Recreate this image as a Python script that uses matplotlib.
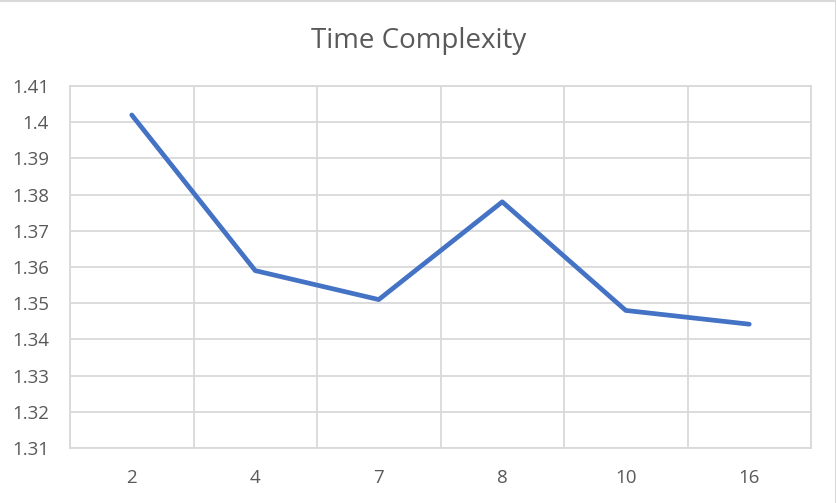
import matplotlib.pyplot as plt
from matplotlib.lines import Line2D
import numpy as np

categories = ["2", "4", "7", "8", "10", "16"]
values = [1.402, 1.359, 1.351, 1.378, 1.348, 1.3442]
y_ticks = [1.31, 1.32, 1.33, 1.34, 1.35, 1.36, 1.37, 1.38, 1.39, 1.40, 1.41]
y_labels = ["1.31", "1.32", "1.33", "1.34", "1.35", "1.36", "1.37", "1.38", "1.39", "1.4", "1.41"]

plt.rcParams["font.family"] = ["Open Sans", "DejaVu Sans"]
text_color = "#595959"
grid_color = "#d9d9d9"

fig = plt.figure(figsize=(8.37, 5.03), dpi=100)
ax = fig.add_axes([70 / 837, 1 - 448 / 503, (811 - 70) / 837, (448 - 86) / 503])

x = np.arange(len(categories))
ax.plot(x, values, color="#4472C4", linewidth=3.4, solid_capstyle="round", zorder=3)

ax.set_xlim(-0.5, len(categories) - 0.5)
ax.set_ylim(1.31, 1.41)
ax.set_xticks(x)
ax.set_xticklabels(categories)
ax.set_xticks(np.arange(-0.5, len(categories)), minor=True)
ax.set_yticks(y_ticks)
ax.set_yticklabels(y_labels)

ax.grid(True, axis="y", which="major", color=grid_color, linewidth=1.3)
ax.grid(True, axis="x", which="minor", color=grid_color, linewidth=1.3)
ax.tick_params(axis="both", which="both", length=0, colors=text_color, labelsize=13.5)
ax.tick_params(axis="x", pad=15)
ax.tick_params(axis="y", pad=15)
for spine in ax.spines.values():
    spine.set_color(grid_color)
    spine.set_linewidth(1.3)

fig.text(0.5, 1 - 41 / 503, "Time Complexity", ha="center", va="center",
         fontsize=20, color=text_color)

# chart area border (only top and right edges visible in the crop)
fig.add_artist(Line2D([0, 1], [0.999, 0.999], transform=fig.transFigure,
                      color=grid_color, linewidth=1.5))
fig.add_artist(Line2D([0.9985, 0.9985], [0, 1], transform=fig.transFigure,
                      color=grid_color, linewidth=1.5))

fig.savefig("out.png", dpi=100)
plt.close(fig)
